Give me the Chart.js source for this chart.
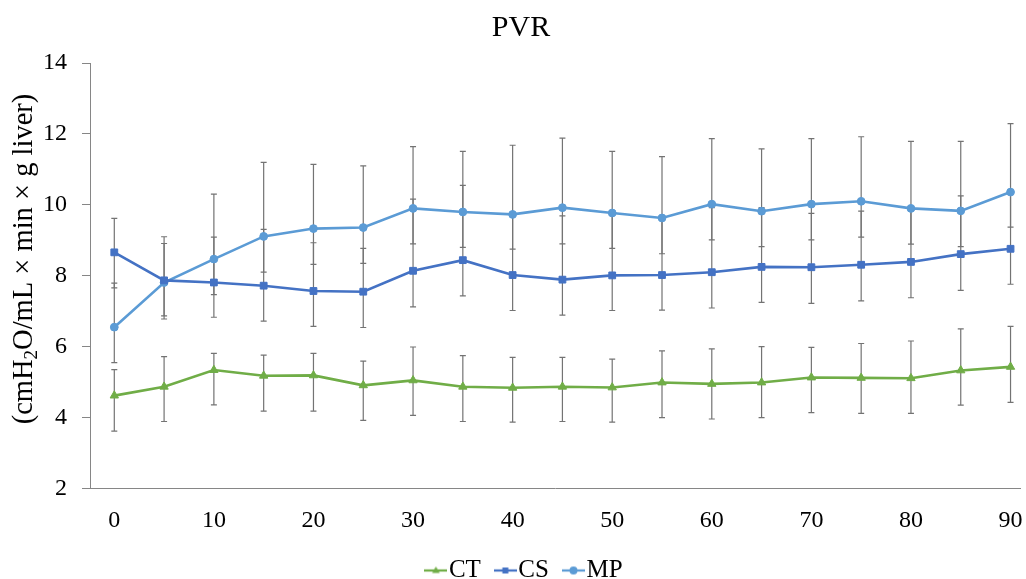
<!DOCTYPE html>
<html><head><meta charset="utf-8">
<script src="https://cdn.jsdelivr.net/npm/chart.js@4.4.1/dist/chart.umd.min.js"></script>
<style>html,body{margin:0;padding:0;background:#fff;overflow:hidden}#wrap{width:1026px;height:579px;position:relative}</style>
</head><body><div id="wrap"><canvas id="c"></canvas></div>
<script>
// ---- data ----
const times = [0,5,10,15,20,25,30,35,40,45,50,55,60,65,70,75,80,85,90];
const xTickValues = [0,10,20,30,40,50,60,70,80,90];
const yTickValues = [2,4,6,8,10,12,14];
const seriesNames = ['CT','CS','MP'];

const ctMean = [4.62,4.87,5.34,5.18,5.19,4.91,5.05,4.87,4.84,4.87,4.85,4.99,4.95,4.99,5.13,5.12,5.11,5.33,5.43];
const ctHi   = [5.35,5.72,5.81,5.76,5.81,5.59,5.99,5.75,5.70,5.70,5.65,5.88,5.94,6.00,5.98,6.09,6.16,6.50,6.57];
const ctLo   = [3.62,3.89,4.36,4.18,4.18,3.92,4.06,3.89,3.87,3.89,3.87,4.00,3.96,4.00,4.14,4.12,4.12,4.35,4.43];

const csMean = [8.66,7.87,7.81,7.72,7.57,7.55,8.14,8.44,8.02,7.89,8.01,8.02,8.10,8.25,8.24,8.31,8.39,8.61,8.76];
const csHi   = [9.62,8.91,9.09,9.31,8.93,8.77,10.16,10.55,9.72,9.69,9.76,9.62,9.92,9.92,9.76,9.82,9.88,10.25,10.35];
const csLo   = [7.66,6.87,6.83,6.72,6.57,6.54,7.12,7.43,7.02,6.89,7.02,7.03,7.09,7.25,7.22,7.29,7.38,7.59,7.76];

const mpMean = [6.55,7.81,8.47,9.11,9.33,9.36,9.90,9.80,9.73,9.92,9.77,9.63,10.02,9.82,10.02,10.10,9.90,9.83,10.36];
const mpHi   = [7.79,9.10,10.30,11.20,11.14,11.10,11.64,11.51,11.68,11.88,11.51,11.36,11.87,11.58,11.87,11.92,11.79,11.79,12.29];
const mpLo   = [5.55,6.78,7.47,8.10,8.32,8.35,8.90,8.80,8.75,8.90,8.77,8.62,9.01,8.82,9.01,9.09,8.89,8.82,9.37];

// ---- styling ----
const FONT = "'Liberation Serif', 'Times New Roman', serif";
const COLORS = ['#70AD47', '#4472C4', '#5B9BD5'];
const STYLES = ['triangle', 'rect', 'circle'];
const RADII = [4.8, 4.8, 3.9];
const AXIS = '#868686';
const ERR = '#737373';

function drawMarker(ctx, style, x, y, r) {
  ctx.beginPath();
  if (style === 'circle') { ctx.arc(x, y, r, 0, Math.PI * 2); }
  else if (style === 'rect') { const s = r * 0.75; ctx.rect(x - s, y - s, 2 * s, 2 * s); }
  else { ctx.moveTo(x, y - r); ctx.lineTo(x + r * 0.95, y + r * 0.6); ctx.lineTo(x - r * 0.95, y + r * 0.6); ctx.closePath(); }
  ctx.fill();
}
function legendIcon(i) {
  const c = document.createElement('canvas');
  c.width = 23; c.height = 12;
  const g = c.getContext('2d');
  g.strokeStyle = COLORS[i]; g.lineWidth = 2.25;
  g.beginPath(); g.moveTo(0, 6); g.lineTo(23, 6); g.stroke();
  g.fillStyle = COLORS[i];
  drawMarker(g, STYLES[i], 11.5, 6, 4);
  return c;
}

const means = [ctMean, csMean, mpMean];
const his = [ctHi, csHi, mpHi];
const los = [ctLo, csLo, mpLo];

const datasets = seriesNames.map((name, i) => ({
  label: name,
  data: times.map((t, j) => ({x: t, y: means[i][j]})),
  borderColor: COLORS[i],
  backgroundColor: COLORS[i],
  borderWidth: 2.6,
  pointStyle: STYLES[i],
  pointRadius: RADII[i],
  pointBorderWidth: 1,
  pointBackgroundColor: COLORS[i],
  pointBorderColor: COLORS[i],
  tension: 0,
  legendIcon: legendIcon(i)
}));

const errorBars = {
  id: 'errorBars',
  beforeDatasetsDraw(chart) {
    const {ctx, scales: {x, y}} = chart;
    ctx.save();
    ctx.strokeStyle = ERR; ctx.lineWidth = 1.2;
    for (let i = 0; i < 3; i++) {
      for (let j = 0; j < times.length; j++) {
        const px = x.getPixelForValue(times[j]);
        const yh = y.getPixelForValue(his[i][j]);
        const yl = y.getPixelForValue(los[i][j]);
        ctx.beginPath();
        ctx.moveTo(px, yh); ctx.lineTo(px, yl);
        ctx.moveTo(px - 3, yh); ctx.lineTo(px + 3, yh);
        ctx.moveTo(px - 3, yl); ctx.lineTo(px + 3, yl);
        ctx.stroke();
      }
    }
    ctx.restore();
  }
};

const yTitle = {
  id: 'yTitle',
  afterDraw(chart) {
    const ctx = chart.ctx;
    const big = 28.5, small = 19;
    const parts = [['(cmH', big, 0], ['2', small, 5], ['O/mL \u00d7 min \u00d7 g liver)', big, 0]];
    ctx.save();
    let total = 0;
    parts.forEach(p => { ctx.font = p[1] + 'px ' + FONT; total += ctx.measureText(p[0]).width; });
    ctx.translate(32, 259);
    ctx.rotate(-Math.PI / 2);
    ctx.fillStyle = '#000';
    ctx.textBaseline = 'alphabetic';
    ctx.textAlign = 'left';
    let cx = -total / 2;
    parts.forEach(p => { ctx.font = p[1] + 'px ' + FONT; ctx.fillText(p[0], cx, p[2]); cx += ctx.measureText(p[0]).width; });
    ctx.restore();
  }
};

const legendShift = {
  id: 'legendShift',
  afterLayout(chart) { if (chart.legend) { chart.legend.left += 8; chart.legend.right += 8; } }
};

new Chart(document.getElementById('c'), {
  type: 'line',
  data: {datasets},
  plugins: [errorBars, yTitle, legendShift],
  options: {
    responsive: true,
    maintainAspectRatio: false,
    animation: false,
    layout: {padding: {left: 16, right: 0, top: 0, bottom: 0}},
    plugins: {
      tooltip: {enabled: false},
      title: {
        display: true, text: 'PVR', color: '#000',
        font: {family: FONT, size: 30, weight: 'normal'},
        padding: {top: 10.5, bottom: 16.5}
      },
      legend: {
        position: 'bottom',
        maxHeight: 45,
        labels: {
          usePointStyle: true,
          pointStyleWidth: 1,
          padding: 24,
          color: '#000',
          font: {family: FONT, size: 25},
          generateLabels(chart) {
            return chart.data.datasets.map((d, i) => ({
              text: d.label, pointStyle: d.legendIcon, fillStyle: d.borderColor,
              strokeStyle: d.borderColor, lineWidth: 0, hidden: false, datasetIndex: i, fontColor: '#000'
            }));
          }
        }
      }
    },
    scales: {
      x: {
        type: 'linear',
        min: -2.44, max: 90.97,
        afterBuildTicks(s) { s.ticks = xTickValues.map(v => ({value: v})); },
        afterFit(s) { s.height = 45.5; s.paddingLeft = 0; s.paddingRight = 0; },
        grid: {display: true, drawOnChartArea: false, drawTicks: false, color: AXIS},
        border: {display: true, color: AXIS, width: 1},
        ticks: {color: '#000', font: {family: FONT, size: 24}, padding: 17.5, autoSkip: false, maxRotation: 0}
      },
      y: {
        type: 'linear',
        min: 2, max: 14,
        afterBuildTicks(s) { s.ticks = yTickValues.map(v => ({value: v})); },
        afterFit(s) { s.width = 74; },
        grid: {display: true, drawOnChartArea: false, drawTicks: true, tickLength: 8, color: AXIS},
        border: {display: true, color: AXIS, width: 1},
        ticks: {color: '#000', font: {family: FONT, size: 24}, padding: 15}
      }
    }
  }
});
</script>
</body></html>
